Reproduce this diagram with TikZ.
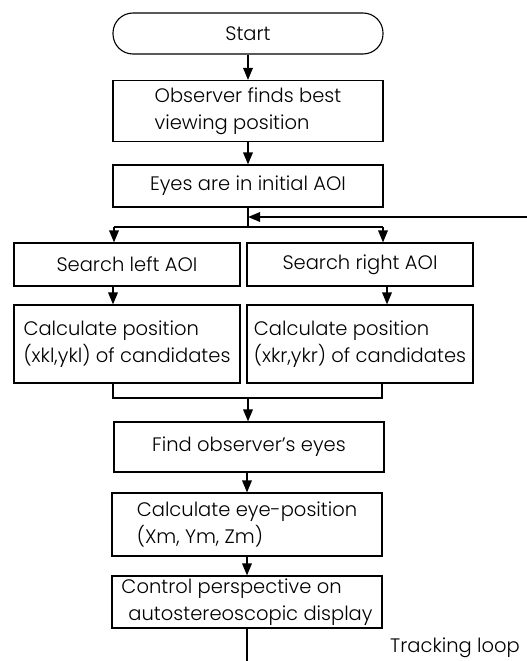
\documentclass[tikz,border=0pt]{standalone}
\usepackage{fontspec}
\setmainfont{Poppins}[UprightFont=* Light]
\usetikzlibrary{arrows.meta}
\begin{document}
\begin{tikzpicture}[x=1pt,y=-1pt,
  every node/.style={font=\fontsize{19.5}{27.5}\selectfont},
  box/.style={draw, line width=1.1pt, rectangle, inner sep=0pt, align=left},
  term/.style={draw, line width=1.1pt, rectangle, rounded corners=20pt, inner sep=0pt},
  flow/.style={line width=1.7pt, -{Triangle[length=12pt,width=9.5pt]}},
  plain/.style={line width=1.7pt}]
\useasboundingbox (0,0) rectangle (527,661);
\node[term, minimum width=270pt, minimum height=41pt] (start) at (248,33.5) {Start};
\node[box, minimum width=270pt, minimum height=61pt] (obs) at (248,111) {Observer finds best\\viewing position};
\node[box, minimum width=270pt, minimum height=42pt] (eyes) at (248,186) {Eyes are in initial AOI};
\node[box, minimum width=226pt, minimum height=43pt, align=center] (sl) at (127,264.5) {Search left AOI};
\node[box, minimum width=226pt, minimum height=43pt, align=center] (sr) at (360,264.5) {Search right AOI};
\node[box, minimum width=226pt, minimum height=78pt] (cl) at (127,344) {Calculate position\\(xkl,ykl) of candidates};
\node[box, minimum width=226pt, minimum height=78pt] (cr) at (360,344) {Calculate position\\(xkr,ykr) of candidates};
\node[box, minimum width=270pt, minimum height=50pt, align=center] (find) at (249,447) {Find observer’s eyes};
\node[box, minimum width=270pt, minimum height=63pt] (calc) at (247,524.5) {Calculate eye-position\\(Xm, Ym, Zm)};
\node[box, minimum width=270pt, minimum height=52pt] (ctrl) at (247,602) {Control perspective on\\\hspace*{7pt}autostereoscopic display};
\node[inner sep=0pt, anchor=west] (track) at (390,648) {Tracking loop};
\coordinate (split) at (248,227);
\coordinate (bl) at (114,227);
\coordinate (brr) at (383,227);
\coordinate (fb) at (527,217);
\coordinate (jl) at (113,398);
\coordinate (jr) at (382,398);
\coordinate (jc) at (248,398);
\coordinate (endl) at (247,661);
\draw[flow] (start) -- (obs);
\draw[flow] (obs) -- (eyes);
\draw[plain] (eyes.south -| split) -- (split);
\draw[plain] (bl) -- (brr);
\draw[flow] (fb) -- (fb -| split);
\draw[flow] (bl) -- (bl |- sl.north);
\draw[flow] (brr) -- (brr |- sr.north);
\draw[flow] (sl.south -| 113,0) -- (cl.north -| 113,0);
\draw[flow] (sr.south -| 387,0) -- (cr.north -| 387,0);
\draw[plain] (cl.south -| jl) -- (jl) -- (jr) -- (cr.south -| jr);
\draw[flow] (jc) -- (jc |- find.north);
\draw[flow] (find.south -| calc) -- (calc);
\draw[flow] (calc) -- (ctrl);
\draw[plain] (ctrl.south -| endl) -- (endl);
\end{tikzpicture}
\end{document}
